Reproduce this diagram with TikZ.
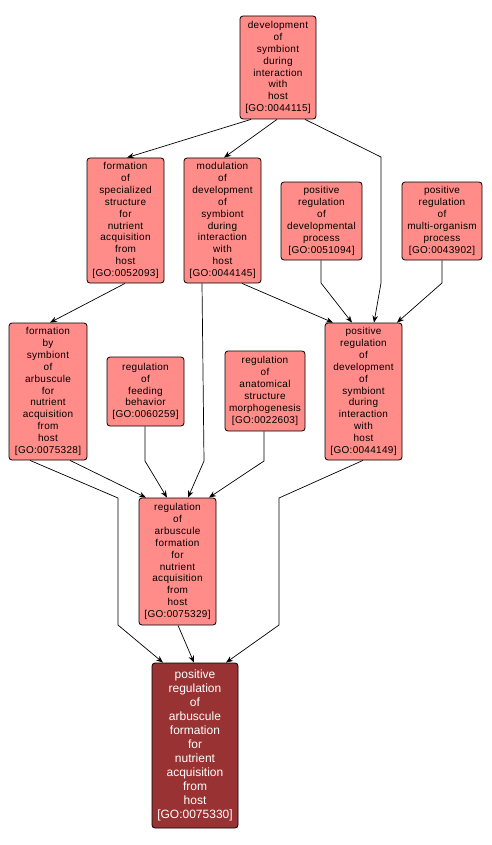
\documentclass[tikz,border=0pt]{standalone}
\usepackage{fontspec}
\setmainfont{Liberation Sans}
\usetikzlibrary{arrows.meta}
\definecolor{lightnode}{HTML}{FF8C89}
\definecolor{darknode}{HTML}{993232}
\begin{document}
\begin{tikzpicture}[x=1pt,y=-1pt,
  goterm/.style={draw=black, line width=0.8pt, rounded corners=3pt, fill=lightnode,
    align=center, inner sep=0pt, font=\fontsize{10}{11.9}\selectfont\addfontfeatures{LetterSpace=3}},
  goterm dark/.style={goterm, fill=darknode, text=white, font=\fontsize{12}{14.07}\selectfont},
  edge/.style={draw=black, line width=0.7pt, -{Stealth[length=7pt,width=5.5pt]}}]
\useasboundingbox (0,0) rectangle (492,845);
\node[goterm, minimum width=76pt, minimum height=103pt] (A) at (278,67.5)
  {development\\of\\symbiont\\during\\interaction\\with\\host\\{[GO:0044115]}};
\node[goterm, minimum width=77pt, minimum height=125pt] (B) at (125.5,220.5)
  {formation\\of\\specialized\\structure\\for\\nutrient\\acquisition\\from\\host\\{[GO:0052093]}};
\node[goterm, minimum width=77pt, minimum height=125pt] (C) at (222.5,220.5)
  {modulation\\of\\development\\of\\symbiont\\during\\interaction\\with\\host\\{[GO:0044145]}};
\node[goterm, minimum width=81pt, minimum height=78pt] (D) at (321.5,221)
  {positive\\regulation\\of\\developmental\\process\\{[GO:0051094]}};
\node[goterm, minimum width=80pt, minimum height=78pt] (E) at (442,221)
  {positive\\regulation\\of\\multi-organism\\process\\{[GO:0043902]}};
\node[goterm, minimum width=78pt, minimum height=137pt] (G) at (48,391.5)
  {formation\\by\\symbiont\\of\\arbuscule\\for\\nutrient\\acquisition\\from\\host\\{[GO:0075328]}};
\node[goterm, minimum width=77pt, minimum height=69pt] (H) at (145.5,391.5)
  {regulation\\of\\feeding\\behavior\\{[GO:0060259]}};
\node[goterm, minimum width=80pt, minimum height=80pt] (I) at (265,391)
  {regulation\\of\\anatomical\\structure\\morphogenesis\\{[GO:0022603]}};
\node[goterm, minimum width=77pt, minimum height=137pt] (F) at (363.5,391.5)
  {positive\\regulation\\of\\development\\of\\symbiont\\during\\interaction\\with\\host\\{[GO:0044149]}};
\node[goterm, minimum width=77pt, minimum height=127pt] (J) at (177.5,561.5)
  {regulation\\of\\arbuscule\\formation\\for\\nutrient\\acquisition\\from\\host\\{[GO:0075329]}};
\node[goterm dark, minimum width=86pt, minimum height=165pt] (K) at (195,745.5)
  {positive\\regulation\\of\\arbuscule\\formation\\for\\nutrient\\acquisition\\from\\host\\{[GO:0075330]}};
% edges
\draw[edge] ([xshift=-27pt]A.south) -- ([xshift=1.5pt]B.north);
\draw[edge] ([xshift=-1pt]A.south) -- ([xshift=1.5pt]C.north);
\draw[edge] ([xshift=27pt]A.south) -- (381,157) -- (381,283) -- ([xshift=10.5pt]F.north);
\draw[edge] ([xshift=19.5pt]C.south) -- ([xshift=-30.5pt]F.north);
\draw[edge] ([xshift=-0.5pt]D.south) -- (321,283) -- ([xshift=-11.5pt]F.north);
\draw[edge] (E.south) -- (442,283) -- ([xshift=33.5pt]F.north);
\draw[edge] ([xshift=-0.5pt]B.south) -- ([xshift=2pt]G.north);
\draw[edge] ([xshift=22pt]G.south) -- ([xshift=-31.5pt]J.north);
\draw[edge] ([xshift=-18pt]G.south) -- (118,498) -- (118,625) -- ([xshift=-32pt]K.north);
\draw[edge] ([xshift=-0.5pt]H.south) -- (145,461) -- ([xshift=-10.5pt]J.north);
\draw[edge] ([xshift=-20.5pt]C.south) -- (204,461) -- ([xshift=10.5pt]J.north);
\draw[edge] ([xshift=-1pt]I.south) -- (264,461) -- ([xshift=31.5pt]J.north);
\draw[edge] ([xshift=0.5pt]J.south) -- ([xshift=-1pt]K.north);
\draw[edge] ([xshift=-0.5pt]F.south) -- (279,498) -- (279,625) -- ([xshift=31pt]K.north);
\end{tikzpicture}
\end{document}
